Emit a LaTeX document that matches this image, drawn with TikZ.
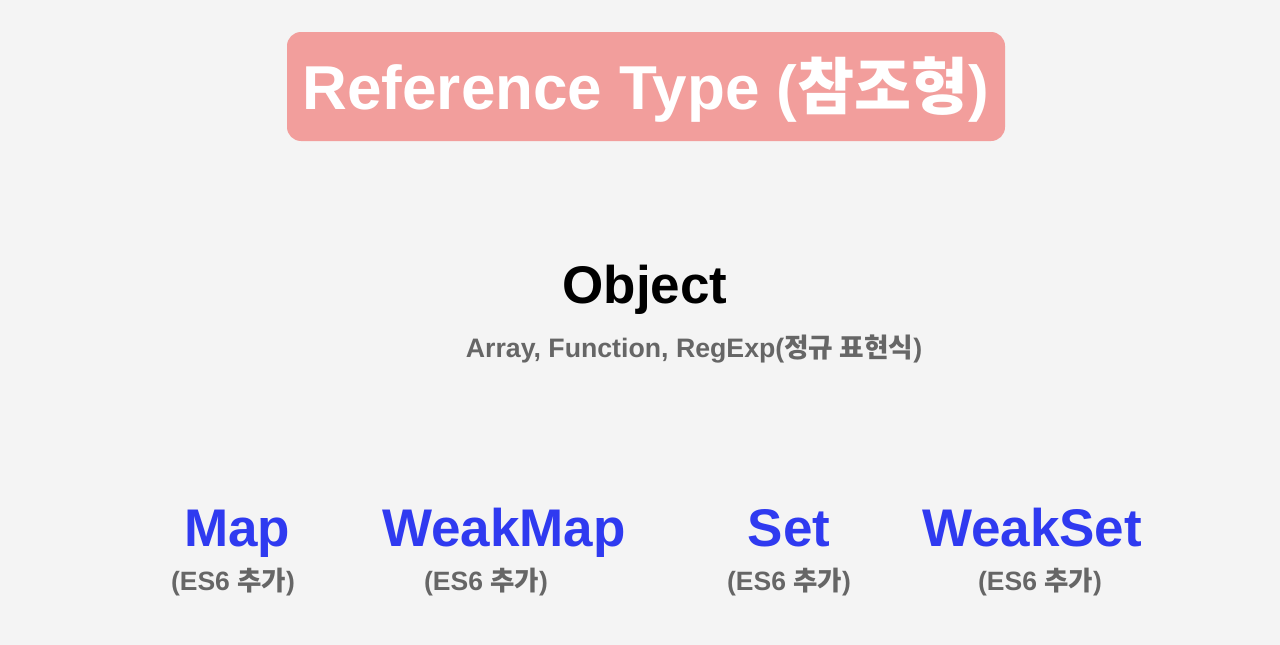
\documentclass[tikz,border=0pt]{standalone}
\usepackage{fontspec}
\setmainfont{Liberation Sans}
\newfontfamily\kr{Noto Sans CJK KR}
\newcommand{\K}[1]{{\kr\bfseries #1}}
\definecolor{bgc}{HTML}{F4F4F4}
\definecolor{boxc}{HTML}{F29E9C}
\definecolor{bluec}{HTML}{2F3AF0}
\definecolor{grayc}{HTML}{666666}
\tikzset{
  titlebox/.style={fill=boxc, rounded corners=14pt, minimum width=718pt, minimum height=109pt, inner sep=0pt},
  titletext/.style={anchor=base, text=white, font=\fontsize{62}{68}\selectfont\bfseries, inner sep=0pt},
  bigtext/.style={anchor=base, text=black, font=\fontsize{53}{58}\selectfont\bfseries, inner sep=0pt},
  bluetext/.style={anchor=base, text=bluec, font=\fontsize{53}{58}\selectfont\bfseries, inner sep=0pt},
  subtext/.style={anchor=base, text=grayc, font=\fontsize{26.7}{30}\selectfont\bfseries, inner sep=0pt},
  estext/.style={anchor=base, text=grayc, font=\fontsize{26.5}{29}\selectfont\bfseries, inner sep=0pt},
}
\begin{document}
\begin{tikzpicture}[x=1pt, y=-1pt]
\fill[bgc] (0,0) rectangle (1280,645);
\useasboundingbox (0,0) rectangle (1280,645);
\node[titlebox] (title) at (646,86.5) {};
\node[titletext] (titlet) at (646,109) {Reference Type (\K{참조형})};
\node[bigtext] (object) at (645,303) {Object};
\node[subtext] (objsub) at (694,357) {Array, Function, RegExp(\K{정규 표현식})};
\node[bluetext] (map) at (237,546) {Map};
\node[bluetext] (weakmap) at (504,546) {WeakMap};
\node[bluetext] (set) at (789,546) {Set};
\node[bluetext] (weakset) at (1032,546) {WeakSet};
\node[estext] (es1) at (233,590) {(ES6 \K{추가})};
\node[estext] (es2) at (486,590) {(ES6 \K{추가})};
\node[estext] (es3) at (789,590) {(ES6 \K{추가})};
\node[estext] (es4) at (1040,590) {(ES6 \K{추가})};
\end{tikzpicture}
\end{document}
